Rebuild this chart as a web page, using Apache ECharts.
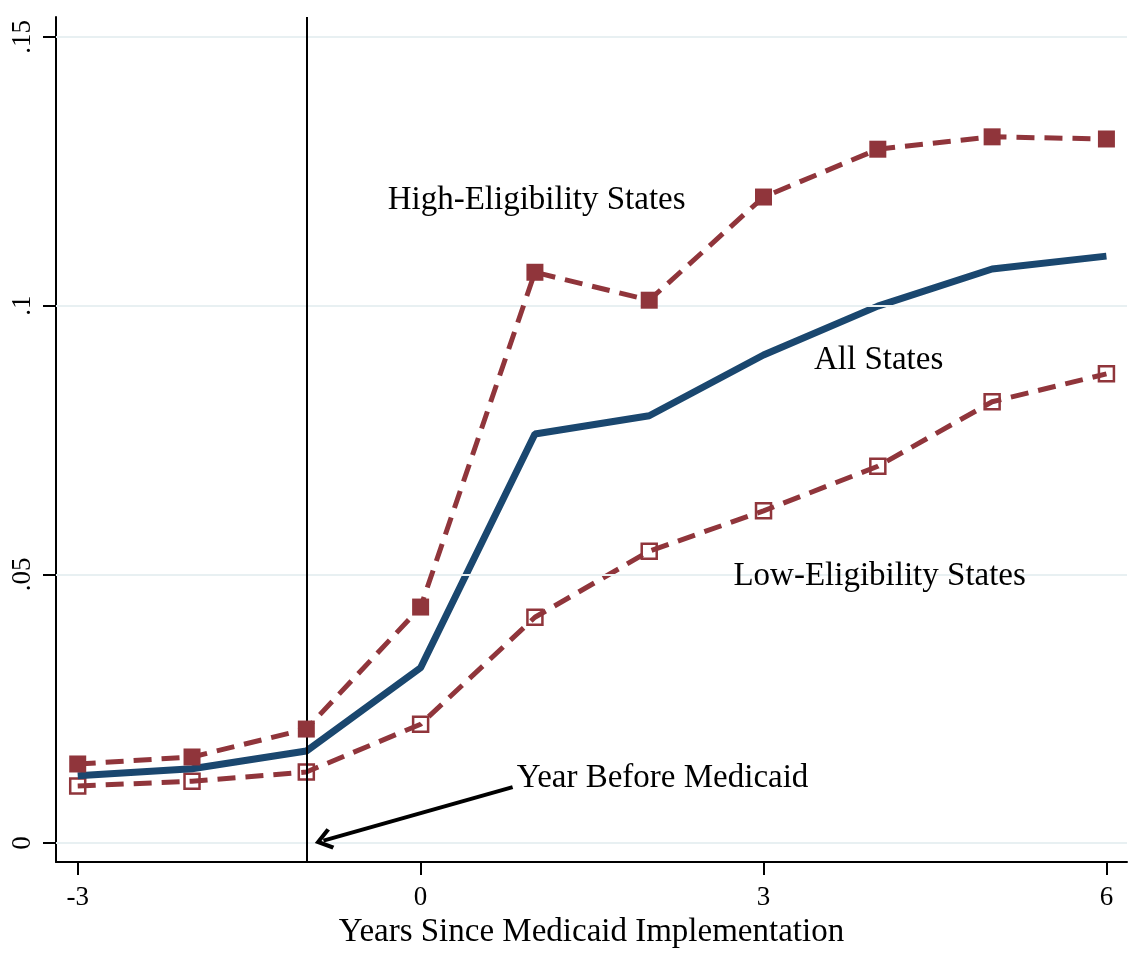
<!DOCTYPE html>
<html>
<head>
<meta charset="utf-8">
<script src="https://cdn.jsdelivr.net/npm/echarts@6/dist/echarts.min.js"></script>
<style>
html,body{margin:0;padding:0;background:#fff;}
#chart{width:1135px;height:963px;}
</style>
</head>
<body>
<div id="chart"></div>
<script>
const years = [-3, -2, -1, 0, 1, 2, 3, 4, 5, 6];
const highElig = [0.0147, 0.0160, 0.0212, 0.0439, 0.1062, 0.1010, 0.1202, 0.1291, 0.1314, 0.1310];
const allStates = [0.0125, 0.0138, 0.0171, 0.0326, 0.0761, 0.0795, 0.0908, 0.0999, 0.1068, 0.1092];
const lowElig = [0.0106, 0.0115, 0.0132, 0.0221, 0.0420, 0.0543, 0.0618, 0.0701, 0.0821, 0.0873];
const xTicks = [-3, 0, 3, 6];
const yTicks = [0, 0.05, 0.1, 0.15];
const yTickLabels = ['0', '.05', '.1', '.15'];
const eventYear = -1;
const labels = [
  {text: 'High-Eligibility States', x: 1.015, y: 0.1196},
  {text: 'All States', x: 4.007, y: 0.0899},
  {text: 'Low-Eligibility States', x: 4.016, y: 0.0497}
];
const arrowNote = {text: 'Year Before Medicaid', from: [0.805, 0.0104], to: [-0.85, 0.00045], textX: 0.84, textY: 0.0121};

const maroon = '#90353b';
const navy = '#1a476f';
const font = '"Liberation Serif", "Times New Roman", serif';

const pair = (arr) => years.map((x, i) => [x, arr[i]]);
const txt = {fontFamily: font, fontSize: 33, color: '#000000', textBorderWidth: 0, opacity: 1};

const chart = echarts.init(document.getElementById('chart'));
chart.setOption({
  backgroundColor: '#ffffff',
  animation: false,
  grid: {left: 56, right: 8, top: 17, bottom: 101, containLabel: false, outerBoundsMode: 'none'},
  xAxis: {
    type: 'value', min: -3.19, max: 6.18,
    name: 'Years Since Medicaid Implementation',
    nameLocation: 'middle', nameGap: 52,
    nameTextStyle: {fontFamily: font, fontSize: 33, color: '#000'},
    axisLine: {show: true, onZero: false, lineStyle: {color: '#000', width: 2}},
    axisTick: {show: true, length: 13, lineStyle: {color: '#000', width: 2}, customValues: xTicks},
    axisLabel: {fontFamily: font, fontSize: 27, color: '#000', margin: 22, customValues: xTicks,
      formatter: v => String(v)},
    splitLine: {show: false}
  },
  yAxis: {
    type: 'value', min: -0.00354, max: 0.1537,
    axisLine: {show: true, onZero: false, lineStyle: {color: '#000', width: 2}},
    axisTick: {show: true, length: 13, lineStyle: {color: '#000', width: 2}, customValues: yTicks},
    axisLabel: {fontFamily: font, fontSize: 27, color: '#000', margin: 20, rotate: 90, customValues: yTicks,
      formatter: v => { const i = yTicks.findIndex(t => Math.abs(t - v) < 1e-9); return i >= 0 ? yTickLabels[i] : ''; }},
    splitLine: {show: false}
  },
  series: [
    {
      type: 'line', data: [], silent: true,
      markLine: {
        silent: true, symbol: ['none', 'none'], animation: false,
        label: {show: false},
        lineStyle: {color: '#e8f0f2', width: 2, type: 'solid'},
        data: yTicks.map(v => ({yAxis: v}))
      }
    },
    {
      type: 'line', data: [], silent: true, z: 1,
      markLine: {
        silent: true, symbol: ['none', 'none'], animation: false,
        label: {show: false},
        lineStyle: {color: '#000', width: 2, type: 'solid'},
        data: [{xAxis: eventYear}]
      }
    },
    {
      name: 'Low-Eligibility States', type: 'line', data: pair(lowElig),
      symbol: 'rect', symbolSize: 15, showAllSymbol: true,
      lineStyle: {color: maroon, width: 5, type: [18, 10]},
      itemStyle: {color: 'rgba(255,255,255,0)', borderColor: maroon, borderWidth: 2.5},
      z: 3
    },
    {
      name: 'All States', type: 'line', data: pair(allStates),
      symbol: 'none',
      lineStyle: {color: navy, width: 7, type: 'solid'},
      itemStyle: {color: navy},
      z: 4
    },
    {
      name: 'High-Eligibility States', type: 'line', data: pair(highElig),
      symbol: 'rect', symbolSize: 17, showAllSymbol: true,
      lineStyle: {color: maroon, width: 5, type: [18, 10]},
      itemStyle: {color: maroon, borderWidth: 0},
      z: 5
    },
    {
      type: 'scatter', silent: true, symbolSize: 0,
      itemStyle: {opacity: 1},
      data: labels.map(l => ({value: [l.x, l.y], label: Object.assign({show: true, position: 'inside', formatter: l.text}, txt)})),
      label: Object.assign({show: true, position: 'inside'}, txt),
      z: 6
    },
    {
      type: 'scatter', silent: true, symbolSize: 0,
      itemStyle: {opacity: 1},
      data: [{value: [arrowNote.textX, arrowNote.textY], label: Object.assign({show: true, position: 'right', distance: 0, formatter: arrowNote.text}, txt)}],
      label: Object.assign({show: true, position: 'right', distance: 0}, txt),
      markLine: {
        silent: true, animation: false,
        symbol: ['none', 'path://M0,0 L9,11 L6.5,13 L0,5 L-6.5,13 L-9,11 Z'], symbolSize: [22, 18],
        label: {show: false},
        lineStyle: {color: '#000', width: 4, type: 'solid', opacity: 1},
        itemStyle: {color: '#000', opacity: 1},
        data: [[{coord: arrowNote.from}, {coord: arrowNote.to}]]
      },
      z: 6
    }
  ]
});
</script>
</body>
</html>
